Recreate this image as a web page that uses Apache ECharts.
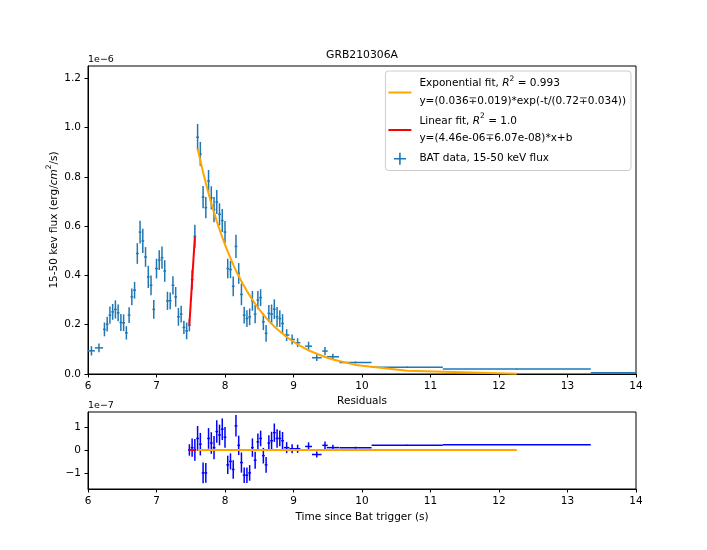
<!DOCTYPE html>
<html>
<head>
<meta charset="utf-8">
<script src="https://cdn.jsdelivr.net/npm/echarts@6/dist/echarts.min.js"></script>
<style>
html,body{margin:0;padding:0;background:#fff;}
#c{width:707px;height:550px;}
</style>
</head>
<body>
<div id="c"></div>
<script>
// ---- data (flux in units of 1e-6 erg/cm^2/s, residuals in units of 1e-7) ----
const t = [
  6.05, 6.16,
  6.24, 6.28, 6.32, 6.36, 6.40, 6.44, 6.48, 6.52, 6.56, 6.60,
  6.64, 6.68, 6.72, 6.76, 6.80, 6.84, 6.88, 6.92, 6.96, 7.00,
  7.04, 7.08, 7.12, 7.16, 7.20, 7.24, 7.28, 7.32, 7.36, 7.40,
  7.44, 7.48, 7.52, 7.56, 7.60, 7.64, 7.68, 7.72, 7.76, 7.80,
  7.84, 7.88, 7.92, 7.96, 8.00, 8.04, 8.08, 8.12, 8.16, 8.20,
  8.24, 8.28, 8.32, 8.36, 8.40, 8.44, 8.48, 8.52, 8.56, 8.60,
  8.64, 8.68, 8.72, 8.76, 8.80, 8.84,
  8.90, 8.98, 9.06, 9.22, 9.34, 9.46, 9.575, 9.905, 10.66, 12.26,
  14.50
];
const tErr = [
  0.05, 0.06,
  0.02, 0.02, 0.02, 0.02, 0.02, 0.02, 0.02, 0.02, 0.02, 0.02,
  0.02, 0.02, 0.02, 0.02, 0.02, 0.02, 0.02, 0.02, 0.02, 0.02,
  0.02, 0.02, 0.02, 0.02, 0.02, 0.02, 0.02, 0.02, 0.02, 0.02,
  0.02, 0.02, 0.02, 0.02, 0.02, 0.02, 0.02, 0.02, 0.02, 0.02,
  0.02, 0.02, 0.02, 0.02, 0.02, 0.02, 0.02, 0.02, 0.02, 0.02,
  0.02, 0.02, 0.02, 0.02, 0.02, 0.02, 0.02, 0.02, 0.02, 0.02,
  0.02, 0.02, 0.02, 0.02, 0.02, 0.02,
  0.04, 0.04, 0.04, 0.05, 0.07, 0.04, 0.09, 0.235, 0.52, 1.08,
  1.16
];
const flux = [
  0.094, 0.106,
  0.181, 0.202, 0.239, 0.252, 0.262, 0.248, 0.209, 0.208, 0.167, 0.239,
  0.313, 0.340, 0.489, 0.576, 0.540, 0.475, 0.394, 0.360, 0.262, 0.428,
  0.462, 0.472, 0.418, 0.297, 0.297, 0.360, 0.313, 0.232, 0.243, 0.189,
  0.175, 0.198, 0.383, 0.559, 0.961, 0.893, 0.718, 0.675, 0.783, 0.715,
  0.667, 0.698, 0.648, 0.623, 0.576, 0.428, 0.424, 0.356, 0.518, 0.408,
  0.323, 0.239, 0.225, 0.232, 0.297, 0.243, 0.300, 0.310, 0.212, 0.165,
  0.246, 0.243, 0.263, 0.232, 0.225, 0.205,
  0.158, 0.140, 0.127, 0.113, 0.066, 0.093, 0.070, 0.047, 0.027, 0.020,
  0.005
];
const fluxErr = [
  0.019, 0.018,
  0.028, 0.030, 0.035, 0.032, 0.037, 0.034, 0.034, 0.034, 0.027, 0.032,
  0.034, 0.034, 0.042, 0.046, 0.049, 0.040, 0.045, 0.040, 0.038, 0.040,
  0.040, 0.045, 0.044, 0.037, 0.034, 0.037, 0.040, 0.036, 0.034, 0.027,
  0.034, 0.025, 0.040, 0.047, 0.054, 0.049, 0.045, 0.043, 0.045, 0.047,
  0.051, 0.049, 0.045, 0.047, 0.045, 0.040, 0.035, 0.040, 0.047, 0.042,
  0.044, 0.034, 0.034, 0.034, 0.040, 0.037, 0.037, 0.034, 0.034, 0.034,
  0.034, 0.039, 0.040, 0.040, 0.034, 0.038,
  0.024, 0.020, 0.018, 0.018, 0.013, 0.017, 0.012, 0.004, 0.003, 0.002,
  0.002
];
// linear fit (rise), evaluated at t[33..35]
const linFit = [0.200, 0.378, 0.557];
// exponential fit (decay), evaluated at t[36..77]
const expFit = [
  0.915, 0.866, 0.819, 0.775, 0.733, 0.693, 0.656, 0.620, 0.587, 0.555,
  0.525, 0.497, 0.470, 0.444, 0.420, 0.398, 0.376, 0.356, 0.337, 0.319,
  0.301, 0.285, 0.270, 0.255, 0.241, 0.228, 0.216, 0.204, 0.193, 0.183,
  0.173, 0.164,
  0.150, 0.135, 0.120, 0.096, 0.082, 0.069, 0.059, 0.037, 0.013, 0.0014
];
// residuals (units of 1e-7) at t[33..77]
const resid = [
  0.0, 0.1, 0.0, 0.5, 0.25, -1.0, -1.0, 0.5, 0.3, 0.1,
  0.8, 0.65, 0.9, 0.55, -0.65, -0.5, -0.85, 1.05, 0.2, -0.55,
  -1.1, -1.1, -1.0, 0.1, -0.45, 0.35, 0.5, -0.25, -0.65, 0.3,
  0.4, 0.75, 0.5, 0.5, 0.4, 0.1, 0.05, 0.05, 0.15, -0.2,
  0.2, 0.1, 0.1, 0.2, 0.23
];
const xTicks = [6, 7, 8, 9, 10, 11, 12, 13, 14];
const yTicks = [0, 0.2, 0.4, 0.6, 0.8, 1.0, 1.2];
const resTicks = [-1, 0, 1];

const LIN_START = 33, EXP_START = 36, RES_START = 33;

// ---- build series data from arrays ----
const batData = t.map((v, i) => [v, tErr[i], flux[i], fluxErr[i]]);
const linData = linFit.map((v, i) => [t[LIN_START + i], v]);
const expData = expFit.map((v, i) => [t[EXP_START + i], v]);
const resData = resid.map((v, i) => {
  const k = RES_START + i;
  return [t[k], tErr[k], v, fluxErr[k] * 10];
});
const resLinData = linFit.map((v, i) => [t[LIN_START + i], 0]);
const resExpData = expFit.map((v, i) => [t[EXP_START + i], 0]);

function errRender(color) {
  return function (params, api) {
    const x = api.value(0), xe = api.value(1), y = api.value(2), ye = api.value(3);
    const l = api.coord([x - xe, y]), r = api.coord([x + xe, y]);
    const b = api.coord([x, y - ye]), tp = api.coord([x, y + ye]);
    const style = { stroke: color, lineWidth: 1.5 };
    return {
      type: 'group',
      children: [
        { type: 'line', shape: { x1: l[0], y1: l[1], x2: r[0], y2: r[1] }, style: style },
        { type: 'line', shape: { x1: b[0], y1: b[1], x2: tp[0], y2: tp[1] }, style: style }
      ]
    };
  };
}

const FONT = 'DejaVu Sans';
const FS = 10.5;
const minus = v => (v < 0 ? '\u2212' + Math.abs(v) : String(v));

const axisCommon = {
  axisLine: { show: true, onZero: false, lineStyle: { color: '#000', width: 1 } },
  axisTick: { show: true, inside: false, length: 3.5, lineStyle: { color: '#000', width: 1 } },
  splitLine: { show: false },
};

const chart = echarts.init(document.getElementById('c'), null, { renderer: 'canvas' });
const supStyle = { fontSize: 7.5, verticalAlign: 'top', lineHeight: 9, fontFamily: FONT, color: '#000' };
const itStyle = { fontStyle: 'italic', fontSize: FS, lineHeight: 17.5, fontFamily: FONT, color: '#000' };

const option = {
  animation: false,
  backgroundColor: '#fff',
  textStyle: { fontFamily: FONT },
  title: [
    { text: 'GRB210306A', left: 362, top: 50, textAlign: 'center', padding: 0,
      textStyle: { fontFamily: FONT, fontSize: 10.8, fontWeight: 'normal', color: '#000' } },
    { text: 'Residuals', left: 362, top: 396, textAlign: 'center', padding: 0,
      textStyle: { fontFamily: FONT, fontSize: 10.5, fontWeight: 'normal', color: '#000' } },
    { text: '1e\u22126', left: 88, top: 55, padding: 0,
      textStyle: { fontFamily: FONT, fontSize: 9.5, fontWeight: 'normal', color: '#000' } },
    { text: '1e\u22127', left: 88, top: 401, padding: 0,
      textStyle: { fontFamily: FONT, fontSize: 9.5, fontWeight: 'normal', color: '#000' } }
  ],
  grid: [
    { left: 88, right: 71, top: 66, bottom: 176, show: true, borderColor: '#000', borderWidth: 1, backgroundColor: 'transparent' },
    { left: 88, right: 71, top: 412, bottom: 61, show: true, borderColor: '#000', borderWidth: 1, backgroundColor: 'transparent' }
  ],
  xAxis: [
    Object.assign({}, axisCommon, {
      type: 'value', gridIndex: 0, min: 6, max: 14,
      axisLabel: { customValues: xTicks, margin: 7, color: '#000', fontFamily: FONT, fontSize: FS },
      axisTick: Object.assign({}, axisCommon.axisTick, { customValues: xTicks })
    }),
    Object.assign({}, axisCommon, {
      type: 'value', gridIndex: 1, min: 6, max: 14,
      name: 'Time since Bat trigger (s)', nameLocation: 'middle', nameGap: 23, nameMoveOverlap: false,
      nameTextStyle: { fontFamily: FONT, fontSize: FS, color: '#000' },
      axisLabel: { customValues: xTicks, margin: 7, color: '#000', fontFamily: FONT, fontSize: FS },
      axisTick: Object.assign({}, axisCommon.axisTick, { customValues: xTicks })
    })
  ],
  yAxis: [
    Object.assign({}, axisCommon, {
      type: 'value', gridIndex: 0, min: 0, max: 1.25,
      name: '15-50 kev flux (erg/{it|cm}{sup|2}/s)', nameLocation: 'middle', nameGap: 25, nameRotate: 90,
      nameMoveOverlap: false,
      nameTextStyle: { fontFamily: FONT, fontSize: FS, color: '#000', lineHeight: 17.5,
        rich: { it: itStyle, sup: supStyle } },
      axisLabel: { customValues: yTicks, margin: 7, color: '#000', fontFamily: FONT, fontSize: FS,
        formatter: v => v.toFixed(1) },
      axisTick: Object.assign({}, axisCommon.axisTick, { customValues: yTicks })
    }),
    Object.assign({}, axisCommon, {
      type: 'value', gridIndex: 1, min: -1.7, max: 1.65,
      axisLabel: { customValues: resTicks, margin: 7, color: '#000', fontFamily: FONT, fontSize: FS,
        formatter: v => minus(v) },
      axisTick: Object.assign({}, axisCommon.axisTick, { customValues: resTicks })
    })
  ],
  legend: {
    orient: 'vertical', right: 76, top: 71,
    backgroundColor: 'rgba(255,255,255,0.8)', borderColor: '#cccccc', borderWidth: 1, borderRadius: 3,
    padding: [4, 5, 3, 3], itemGap: 2.5, itemWidth: 23, itemHeight: 12,
    selectedMode: false,
    textStyle: { fontFamily: FONT, fontSize: FS, color: '#000', lineHeight: 17.5, padding: [0, 0, 0, 3],
      rich: { it: itStyle, sup: supStyle, n: { fontFamily: FONT, fontSize: FS, color: '#000', lineHeight: 17.5 } } },
    formatter: function (name) {
      if (name === 'Exponential fit') {
        return 'Exponential fit, {it|R}{sup|2} = 0.993\ny=(0.036\u22130.019)*exp(-t/(0.72\u22130.034))';
      }
      if (name === 'Linear fit') {
        return 'Linear fit, {it|R}{sup|2} = 1.0\ny=(4.46e-06\u22136.07e-08)*x+b';
      }
      return name;
    },
    data: [
      { name: 'Exponential fit', icon: 'path://M0,0h23v2h-23z' },
      { name: 'Linear fit', icon: 'path://M0,0h23v2h-23z' },
      { name: 'BAT data, 15-50 keV flux', icon: 'path://M5.2,0h1.6v12h-1.6zM0,5.2h12v1.6h-12z' }
    ]
  },
  series: [
    {
      name: 'BAT data, 15-50 keV flux', type: 'custom', xAxisIndex: 0, yAxisIndex: 0,
      renderItem: errRender('#1f77b4'), data: batData, encode: { x: 0, y: 2 },
      itemStyle: { color: '#1f77b4' }, clip: true, z: 2
    },
    {
      name: 'Exponential fit', type: 'line', xAxisIndex: 0, yAxisIndex: 0, data: expData,
      symbol: 'none', showSymbol: false, lineStyle: { color: '#ffa500', width: 2 }, itemStyle: { color: '#ffa500' }, z: 3
    },
    {
      name: 'Linear fit', type: 'line', xAxisIndex: 0, yAxisIndex: 0, data: linData,
      symbol: 'none', showSymbol: false, lineStyle: { color: '#ff0000', width: 2 }, itemStyle: { color: '#ff0000' }, z: 3
    },
    {
      name: 'res-data', type: 'custom', xAxisIndex: 1, yAxisIndex: 1,
      renderItem: errRender('#0000ff'), data: resData, encode: { x: 0, y: 2 },
      itemStyle: { color: '#0000ff' }, clip: true, z: 2
    },
    {
      name: 'res-exp', type: 'line', xAxisIndex: 1, yAxisIndex: 1, data: resExpData,
      symbol: 'none', showSymbol: false, lineStyle: { color: '#ffa500', width: 2 }, z: 3
    },
    {
      name: 'res-lin', type: 'line', xAxisIndex: 1, yAxisIndex: 1, data: resLinData,
      symbol: 'none', showSymbol: false, lineStyle: { color: '#ff0000', width: 2 }, z: 3
    }
  ]
};
chart.setOption(option);
</script>
</body>
</html>
